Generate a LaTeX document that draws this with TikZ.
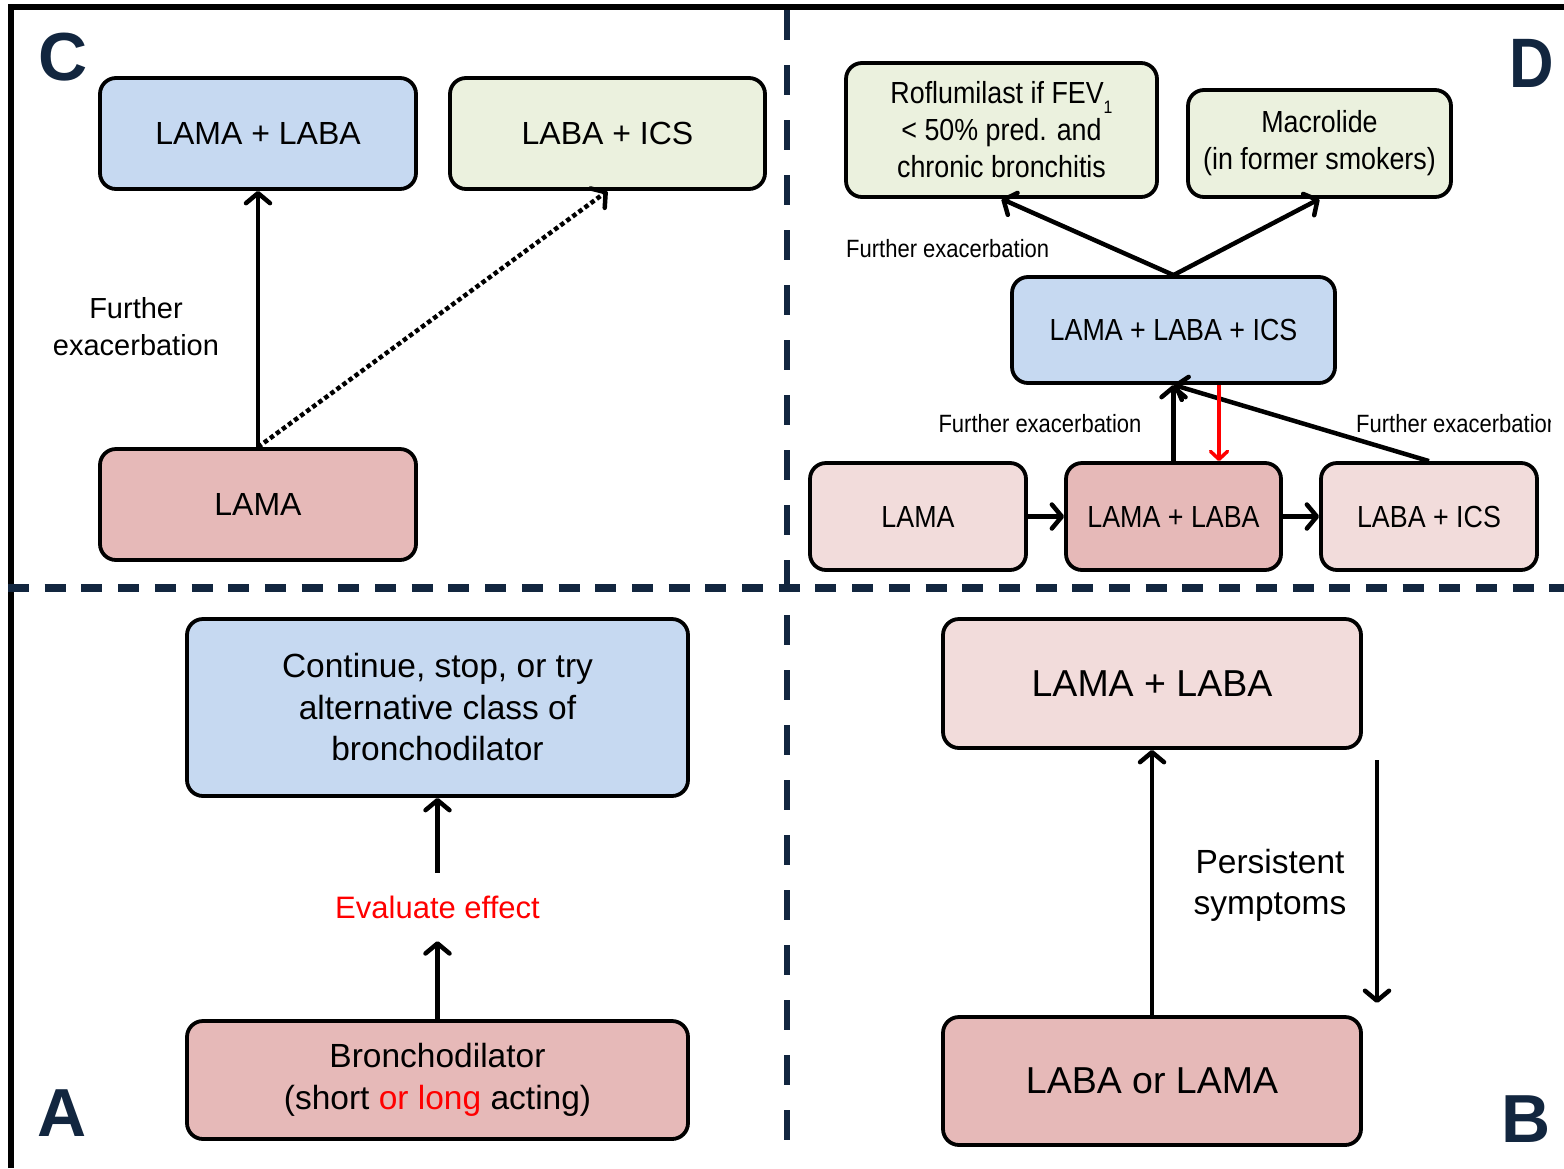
\documentclass[tikz,border=0pt]{standalone}
\usepackage{fontspec}
\setmainfont{Liberation Sans}
\newfontfamily\narrowfont{Liberation Sans}[FakeStretch=0.88]
\usetikzlibrary{arrows.meta}
\definecolor{boxblue}{HTML}{C6D9F1}
\definecolor{boxgreen}{HTML}{EBF1DE}
\definecolor{boxrose}{HTML}{E6B9B8}
\definecolor{boxpale}{HTML}{F2DCDB}
\definecolor{navy}{HTML}{12263F}
\begin{document}
\begin{tikzpicture}[x=1pt, y=-1pt,
  box/.style={draw=black, line width=3.8pt, rounded corners=16pt, inner sep=0pt, align=center},
  arr/.style={line width=4.5pt, -{Straight Barb[length=10pt,width=24pt,round]}},
  panel/.style={text=navy, font=\fontsize{68}{68}\selectfont\bfseries},
  sizeC/.style={font=\fontsize{32}{38}\selectfont},
  sizeA/.style={font=\fontsize{33.5}{41.5}\selectfont},
  sizeB/.style={font=\fontsize{37.5}{44}\selectfont},
  sizeD/.style={font=\narrowfont\fontsize{30.5}{37}\selectfont},
  smallD/.style={font=\narrowfont\fontsize{25}{30}\selectfont}]
  \useasboundingbox (0,0) rectangle (1564,1168);
  % Frame and dividers
  \draw[line width=6pt] (11,1168) -- (11,6.5) -- (1564,6.5);
  \draw[line width=6.5pt, navy, dash pattern=on 30pt off 25pt] (787,10) -- (787,1162);
  \draw[line width=8pt, navy, dash pattern=on 21pt off 15.7pt] (8,588) -- (1564,588);
  % Panel C
  \node[panel] (labC) at (63,57) {C};
  \node[box, fill=boxblue, sizeC, minimum width=316, minimum height=111] (cDual) at (258,133.5) {LAMA + LABA};
  \node[box, fill=boxgreen, sizeC, minimum width=315, minimum height=111] (cIcs) at (607.5,133.5) {LABA + ICS};
  \node[box, fill=boxrose, sizeC, minimum width=316, minimum height=111] (cLama) at (258,504.5) {LAMA};
  \node[align=center, font=\fontsize{29}{37}\selectfont] (cExac) at (136,327) {Further\\exacerbation};
  \draw[arr] (cLama.north) -- (cDual.south);
  \draw[arr, dash pattern=on 4.5pt off 3pt] (cLama.north) -- (cIcs.south);
  % Panel D
  \node[panel, font=\narrowfont\fontsize{70}{70}\selectfont\bfseries] (labD) at (1532,63) {D};
  \node[box, fill=boxgreen, sizeD, minimum width=311, minimum height=134] (dRof) at (1001.5,130)
    {Roflumilast if FEV\raisebox{-0.3em}{\fontsize{18}{18}\selectfont 1}\\< 50\% pred. and\\chronic bronchitis};
  \node[box, fill=boxgreen, sizeD, minimum width=263, minimum height=107] (dMac) at (1319.5,143.5)
    {Macrolide\\(in former smokers)};
  \node[box, fill=boxblue, sizeD, minimum width=323, minimum height=106] (dTri) at (1173.5,330) {LAMA + LABA + ICS};
  \node[box, fill=boxpale, sizeD, minimum width=216, minimum height=107] (dLama) at (918,516.5) {LAMA};
  \node[box, fill=boxrose, sizeD, minimum width=215, minimum height=107] (dDual) at (1173.5,516.5) {LAMA + LABA};
  \node[box, fill=boxpale, sizeD, minimum width=216, minimum height=107] (dIcs) at (1429,516.5) {LABA + ICS};
  \node[smallD, anchor=west, inner sep=0pt] (dExacA) at (846,249) {Further exacerbation};
  \node[smallD, inner sep=0pt] (dExacB) at (1040,424) {Further exacerbation};
  \begin{scope}
    \clip (1330,400) rectangle (1550,450);
    \node[smallD, anchor=west, inner sep=0pt] (dExacC) at (1356,424) {Further exacerbation};
  \end{scope}
  \draw[arr] (dTri.north) -- (dRof.south);
  \draw[arr] (dTri.north) -- (dMac.south);
  \draw[arr] (dDual.north) -- (dTri.south);
  \draw[arr] (dIcs.north) -- (dTri.south);
  \draw[arr] (dLama.east) -- (dDual.west);
  \draw[arr] (dDual.east) -- (dIcs.west);
  \draw[line width=3.5pt, red, -{Straight Barb[length=8pt,width=17pt,round]}]
    ([xshift=45.5pt]dTri.south) -- ([xshift=45.5pt]dDual.north);
  % Panel A
  \node[panel] (labA) at (62,1113) {A};
  \node[box, fill=boxblue, sizeA, minimum width=501, minimum height=177] (aCont) at (437.5,707.5)
    {Continue, stop, or try\\alternative class of\\bronchodilator};
  \node[text=red, font=\fontsize{31}{31}\selectfont, minimum height=68, inner sep=0pt] (aEval) at (437.5,907) {Evaluate effect};
  \node[box, fill=boxrose, sizeA, minimum width=501, minimum height=118] (aBron) at (437.5,1080)
    {Bronchodilator\\(short \textcolor{red}{or long} acting)};
  \draw[arr] (aBron.north) -- (aEval.south);
  \draw[arr] (aEval.north) -- (aCont.south);
  % Panel B
  \node[panel] (labB) at (1526,1119) {B};
  \node[box, fill=boxpale, sizeB, minimum width=418, minimum height=129] (bDual) at (1152,683.5) {LAMA + LABA};
  \node[box, fill=boxrose, sizeB, minimum width=418, minimum height=128] (bMono) at (1152,1081) {LABA or LAMA};
  \node[align=center, font=\fontsize{33.5}{41}\selectfont] (bPers) at (1270,885) {Persistent\\symptoms};
  \coordinate (bTop) at (1377,760);
  \coordinate (bBot) at (1377,1003);
  \draw[arr] (bMono.north) -- (bDual.south);
  \draw[arr] (bTop) -- (bBot);
\end{tikzpicture}
\end{document}
